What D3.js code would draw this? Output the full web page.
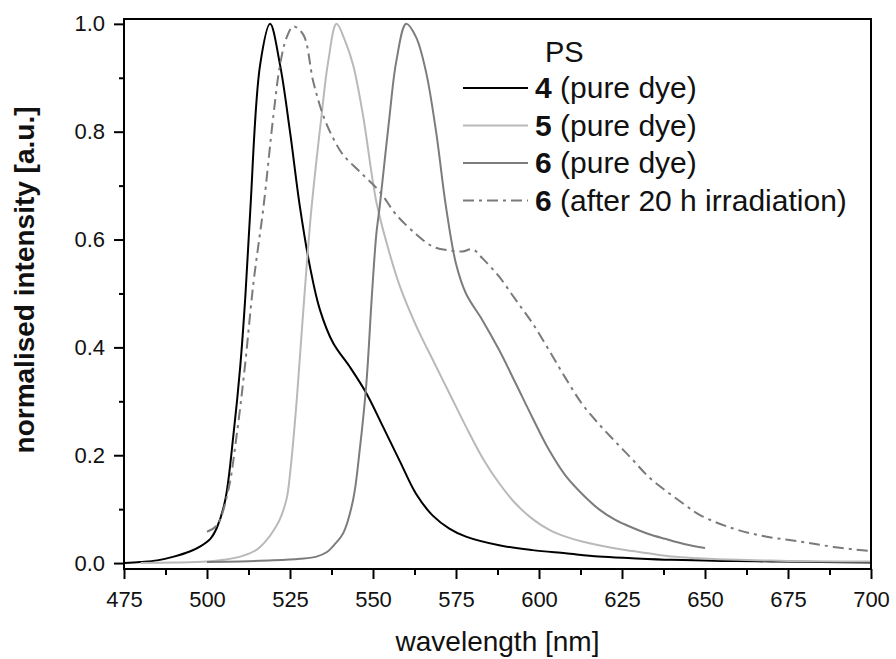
<!DOCTYPE html>
<html>
<head>
<meta charset="utf-8">
<script src="https://cdn.jsdelivr.net/npm/d3@7"></script>
<style>
  body { margin: 0; background: #fff; }
  svg { display: block; font-family: "Liberation Sans", Arial, sans-serif; }
</style>
</head>
<body>
<svg id="chart"></svg>
<script>
// wavelength ticks and values
const xTicks = [475, 500, 525, 550, 575, 600, 625, 650, 675, 700];
const yTicks = [0.0, 0.2, 0.4, 0.6, 0.8, 1.0];

const dye4X = [475, 480, 485, 490, 495, 498, 501, 503, 505.5, 508, 510, 511.5, 513, 516, 519, 522, 525, 528, 531, 534, 538, 543, 548, 553, 558, 563, 568, 573, 578, 588, 598, 608, 618, 628, 640, 655, 670, 685, 700];
const dye4Y = [0.0, 0.002, 0.005, 0.012, 0.022, 0.031, 0.045, 0.066, 0.117, 0.24, 0.364, 0.49, 0.65, 0.924, 1.0, 0.924, 0.80, 0.66, 0.55, 0.47, 0.408, 0.364, 0.315, 0.253, 0.19, 0.128, 0.088, 0.064, 0.049, 0.033, 0.024, 0.018, 0.012, 0.009, 0.006, 0.004, 0.003, 0.002, 0.001];

const dye5X = [480, 490, 500, 505, 510, 515, 518, 520, 522, 524, 525, 527, 528.5, 530, 531.5, 534.5, 536.5, 539, 541.5, 544, 547, 551, 554.5, 558, 563, 568, 573, 578, 583, 588, 593, 598, 603, 608, 613, 618, 625, 633, 640, 648, 660, 675, 690, 700];
const dye5Y = [0.0, 0.001, 0.003, 0.006, 0.012, 0.025, 0.043, 0.06, 0.082, 0.12, 0.165, 0.30, 0.426, 0.55, 0.66, 0.83, 0.93, 1.0, 0.97, 0.924, 0.83, 0.67, 0.585, 0.515, 0.44, 0.377, 0.315, 0.253, 0.195, 0.148, 0.11, 0.082, 0.062, 0.049, 0.04, 0.033, 0.025, 0.018, 0.012, 0.009, 0.006, 0.004, 0.003, 0.003];

const dye6X = [500, 510, 520, 528, 533, 536, 538.5, 541, 544, 546, 548, 549.6, 551, 552, 555, 557, 560, 563, 566, 569, 572, 575, 578, 583, 588, 593, 598, 603, 608, 613, 618, 623, 628, 633, 638, 644, 650];
const dye6Y = [0.002, 0.003, 0.005, 0.008, 0.012, 0.02, 0.035, 0.055, 0.117, 0.21, 0.333, 0.49, 0.61, 0.66, 0.83, 0.93, 1.0, 0.975, 0.91, 0.80, 0.66, 0.555, 0.50, 0.45, 0.395, 0.333, 0.27, 0.21, 0.162, 0.128, 0.10, 0.08, 0.066, 0.054, 0.045, 0.035, 0.028];

const irrX = [500, 503, 506.4, 509, 511.4, 514, 517, 520, 522, 524, 526, 529, 532, 535, 538, 541, 546, 552, 557, 563, 568, 573, 577, 580, 583, 588, 593, 598, 603, 608, 613, 618, 623, 628, 633, 638, 643.5, 648.5, 658.5, 668.6, 678.6, 688.6, 700];
const irrY = [0.058, 0.07, 0.135, 0.24, 0.364, 0.52, 0.66, 0.83, 0.924, 0.975, 0.995, 0.98, 0.893, 0.83, 0.788, 0.757, 0.726, 0.689, 0.646, 0.61, 0.587, 0.58, 0.578, 0.582, 0.565, 0.531, 0.488, 0.445, 0.395, 0.343, 0.295, 0.258, 0.225, 0.193, 0.16, 0.135, 0.11, 0.089, 0.064, 0.049, 0.04, 0.03, 0.022];

const seriesLabels = ['4', '5', '6', '6'];
const seriesNotes = [' (pure dye)', ' (pure dye)', ' (pure dye)', ' (after 20 h irradiation)'];

const width = 896, height = 659;
const margin = { top: 19, right: 25, bottom: 90, left: 124 };

const svg = d3.select('#chart')
  .attr('width', width)
  .attr('height', height);

const x = d3.scaleLinear()
  .domain([475, 700])
  .range([margin.left, width - margin.right]);

const y = d3.scaleLinear()
  .domain([-0.011, 1.009])
  .range([height - margin.bottom, margin.top]);

const series = [
  { xs: dye4X, ys: dye4Y, color: '#000000', dash: null },
  { xs: dye5X, ys: dye5Y, color: '#b9b9b9', dash: null },
  { xs: dye6X, ys: dye6Y, color: '#7c7c7c', dash: null },
  { xs: irrX, ys: irrY, color: '#7a7a7a', dash: '11,5,3,5' }
];

const line = d3.line()
  .x(d => x(d[0]))
  .y(d => y(d[1]))
  .curve(d3.curveCatmullRom.alpha(0.5));

// curves
svg.append('g')
  .selectAll('path')
  .data(series)
  .join('path')
  .attr('fill', 'none')
  .attr('stroke', d => d.color)
  .attr('stroke-width', 2)
  .attr('stroke-dasharray', d => d.dash)
  .attr('d', d => line(d.xs.map((v, i) => [v, d.ys[i]])));

// frame
svg.append('rect')
  .attr('x', x(475))
  .attr('y', y(1.009))
  .attr('width', x(700) - x(475))
  .attr('height', y(-0.011) - y(1.009))
  .attr('fill', 'none')
  .attr('stroke', '#000')
  .attr('stroke-width', 2);

// x axis
svg.append('g')
  .attr('transform', `translate(0,${y(-0.011)})`)
  .call(d3.axisBottom(x).tickValues(xTicks).tickFormat(d3.format('d')).tickSizeInner(10).tickSizeOuter(0).tickPadding(12));

svg.append('g')
  .attr('transform', `translate(0,${y(-0.011)})`)
  .call(d3.axisBottom(x).tickValues(d3.range(487.5, 700, 25)).tickFormat('').tickSizeInner(6).tickSizeOuter(0));

// y axis
svg.append('g')
  .attr('transform', `translate(${x(475)},0)`)
  .call(d3.axisLeft(y).tickValues(yTicks).tickFormat(d3.format('.1f')).tickSizeInner(10).tickSizeOuter(0).tickPadding(9));

svg.append('g')
  .attr('transform', `translate(${x(475)},0)`)
  .call(d3.axisLeft(y).tickValues([0.1, 0.3, 0.5, 0.7, 0.9]).tickFormat('').tickSizeInner(5).tickSizeOuter(0));

svg.selectAll('.domain').remove();
svg.selectAll('.tick line').attr('stroke', '#000').attr('stroke-width', 2);
svg.selectAll('.tick text')
  .attr('font-family', '"Liberation Sans", Arial, sans-serif')
  .attr('font-size', 22)
  .attr('fill', '#111');

// axis titles
svg.append('text')
  .attr('x', (x(475) + x(700)) / 2)
  .attr('y', 651)
  .attr('text-anchor', 'middle')
  .attr('font-size', 28)
  .attr('fill', '#111')
  .text('wavelength [nm]');

svg.append('text')
  .attr('transform', 'translate(34,280) rotate(-90)')
  .attr('text-anchor', 'middle')
  .attr('font-size', 28)
  .attr('font-weight', 'bold')
  .attr('fill', '#111')
  .text('normalised intensity [a.u.]');

// legend
const legend = svg.append('g');

legend.append('text')
  .attr('x', 545)
  .attr('y', 62)
  .attr('font-size', 29)
  .attr('fill', '#111')
  .text('PS');

const rows = legend.selectAll('g.row')
  .data(series)
  .join('g')
  .attr('class', 'row')
  .attr('transform', (d, i) => `translate(0,${88 + i * 37.5})`);

rows.append('line')
  .attr('x1', 463)
  .attr('x2', 528)
  .attr('stroke', d => d.color)
  .attr('stroke-width', 2)
  .attr('stroke-dasharray', d => d.dash);

const rowText = rows.append('text')
  .attr('x', 535)
  .attr('y', 10)
  .attr('font-size', 30)
  .attr('fill', '#111');

rowText.append('tspan')
  .attr('font-weight', 'bold')
  .text((d, i) => seriesLabels[i]);

rowText.append('tspan')
  .text((d, i) => seriesNotes[i]);
</script>
</body>
</html>
